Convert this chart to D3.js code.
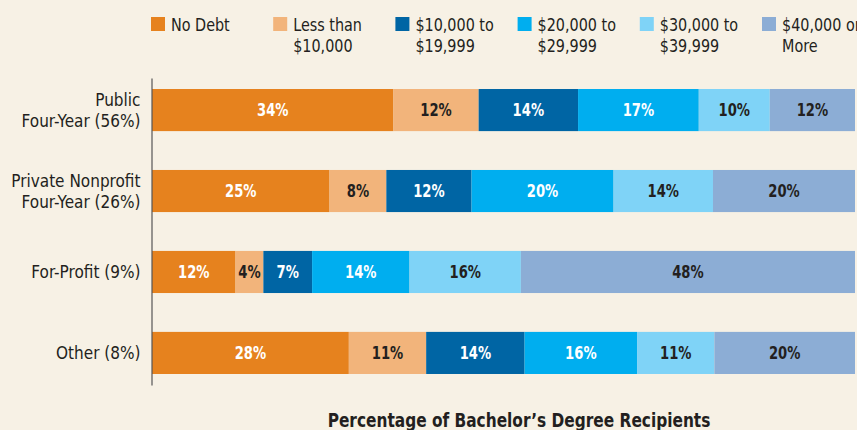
<!DOCTYPE html>
<html>
<head>
<meta charset="utf-8">
<script src="https://cdn.jsdelivr.net/npm/d3@7"></script>
<style>
 body { margin: 0; background: #f7f1e5; }
 svg text { font-family: "DejaVu Sans Condensed", "Liberation Sans Narrow", sans-serif; }
</style>
</head>
<body>
<div id="chart-container"></div>
<script>
// Categories (sector rows) and their label lines
var sectors = ["Public Four-Year (56%)", "Private Nonprofit Four-Year (26%)", "For-Profit (9%)", "Other (8%)"];
var sectorLines = [["Public", "Four-Year (56%)"], ["Private Nonprofit", "Four-Year (26%)"], ["For-Profit (9%)"], ["Other (8%)"]];

// Debt levels (series)
var debtLevels = ["No Debt", "Less than $10,000", "$10,000 to $19,999", "$20,000 to $29,999", "$30,000 to $39,999", "$40,000 or More"];
var legendLines = [["No Debt"], ["Less than", "$10,000"], ["$10,000 to", "$19,999"], ["$20,000 to", "$29,999"], ["$30,000 to", "$39,999"], ["$40,000 or", "More"]];

// Percent values per debt level, in sector order
var noDebt    = [34, 25, 12, 28];
var under10k  = [12, 8, 4, 11];
var from10k   = [14, 12, 7, 14];
var from20k   = [17, 20, 14, 16];
var from30k   = [10, 14, 16, 11];
var over40k   = [12, 20, 48, 20];

var seriesValues = [noDebt, under10k, from10k, from20k, from30k, over40k];

var colors = ["#e6821e", "#f2b47b", "#0065a4", "#00aeef", "#7fd3f7", "#8cadd5"];
var labelColors = ["#ffffff", "#231f20", "#ffffff", "#ffffff", "#231f20", "#231f20"];

// build table for d3.stack
var table = sectors.map(function(s, i) {
  var row = { sector: s };
  debtLevels.forEach(function(k, j) { row[k] = seriesValues[j][i]; });
  return row;
});

var W = 857, H = 430;
var svg = d3.select("#chart-container")
  .append("svg")
  .attr("width", W)
  .attr("height", H)
  .style("display", "block");

svg.append("rect").attr("width", W).attr("height", H).attr("fill", "#f7f1e5");

// scales
var x = d3.scaleLinear().domain([0, 1]).range([152, 855]);
var y = d3.scaleBand().domain(sectors).range([78, 385]).paddingInner(0.48).paddingOuter(0.136);

// rows are drawn as shares of their own total (full width)
var stack = d3.stack().keys(debtLevels).offset(d3.stackOffsetExpand);
var stacked = stack(table);

var layers = svg.selectAll(".layer")
  .data(stacked)
  .enter().append("g")
  .attr("class", "layer");

layers.each(function(layer, li) {
  var g = d3.select(this);
  g.selectAll("rect")
    .data(layer)
    .enter().append("rect")
    .attr("x", function(d) { return x(d[0]); })
    .attr("y", function(d) { return y(d.data.sector); })
    .attr("width", function(d) { return x(d[1]) - x(d[0]); })
    .attr("height", y.bandwidth())
    .attr("fill", colors[li]);

  g.selectAll("text")
    .data(layer)
    .enter().append("text")
    .attr("transform", function(d) {
      return "translate(" + (x(d[0]) + x(d[1])) / 2 + "," + (y(d.data.sector) + y.bandwidth() / 2) + ") scale(0.86,1)";
    })
    .attr("dy", "0.36em")
    .attr("text-anchor", "middle")
    .style("font-size", "17px")
    .style("font-weight", "bold")
    .style("fill", labelColors[li])
    .text(function(d) { return d.data[layer.key] + "%"; });
});

// y axis
var yAxis = svg.append("g")
  .attr("transform", "translate(151.5,0)")
  .call(d3.axisLeft(y).tickSize(0).tickSizeOuter(0).tickPadding(11));

yAxis.select(".domain").attr("stroke", "#555").attr("stroke-width", 1.2);
yAxis.selectAll(".tick text").each(function(d, i) {
  var t = d3.select(this);
  var lines = sectorLines[i];
  t.text(null)
    .attr("fill", "#231f20")
    .style("font-size", "17px")
    .attr("font-family", null)
    .attr("dy", null);
  lines.forEach(function(line, k) {
    t.append("tspan")
      .attr("x", -11)
      .attr("y", (k - (lines.length - 1) / 2) * 21)
      .attr("dy", "0.36em")
      .text(line);
  });
});

// legend
var legend = svg.selectAll(".legend")
  .data(debtLevels)
  .enter().append("g")
  .attr("class", "legend")
  .attr("transform", function(d, i) { return "translate(" + (151 + i * 122.2) + ",17)"; });

legend.append("rect")
  .attr("width", 14)
  .attr("height", 14)
  .attr("fill", function(d, i) { return colors[i]; });

legend.append("text")
  .attr("transform", "translate(20,0) scale(0.94,1)")
  .style("font-size", "17px")
  .style("fill", "#231f20")
  .each(function(d, i) {
    var t = d3.select(this);
    legendLines[i].forEach(function(line, k) {
      t.append("tspan").attr("x", 0).attr("y", 14 + k * 21).text(line);
    });
  });

// x axis title
svg.append("text")
  .attr("transform", "translate(519,427) scale(0.9,1)")
  .attr("text-anchor", "middle")
  .style("font-size", "19px")
  .style("font-weight", "bold")
  .style("fill", "#231f20")
  .text("Percentage of Bachelor\u2019s Degree Recipients");
</script>
</body>
</html>
